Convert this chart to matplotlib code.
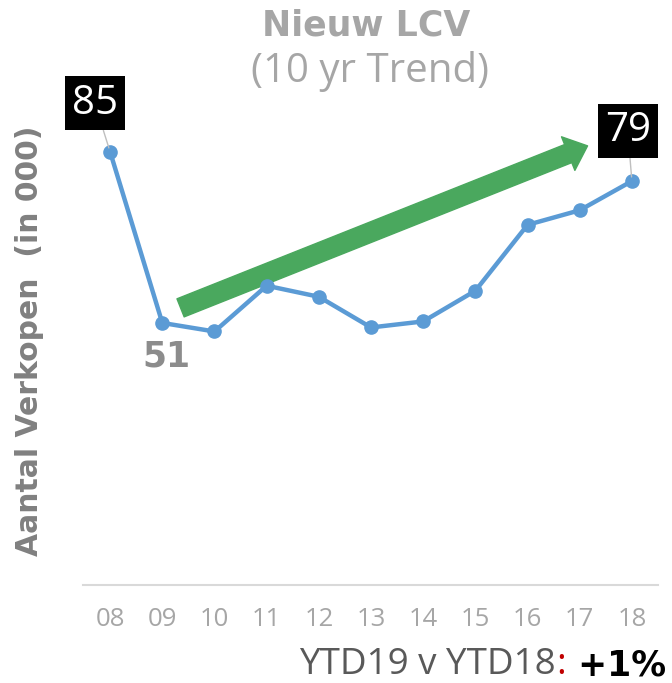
# Nieuw LCV - 10 jaar trend

import numpy as np
import matplotlib.pyplot as plt
from matplotlib.patches import FancyArrowPatch

jaren = ['08', '09', '10', '11', '12', '13', '14', '15', '16', '17', '18']
verkopen = [85, 51, 49.3, 58.4, 56.2, 50.1, 51.3, 57.4, 70.5, 73.4, 79.2]

# trend pijl (begin en eind in data coordinaten)
trend_x = [1.35, 9.15]
trend_y = [54.0, 86.2]

titel = 'Nieuw LCV'
subtitel = '(10 yr Trend)'
ylabel = 'Aantal Verkopen  (in 000)'
ytd_tekst = 'YTD19 v YTD18'
ytd_waarde = '+1%'

blauw = '#5b9bd5'
groen = '#4aa85e'
grijs = '#a6a6a6'

fig = plt.figure(figsize=(6.72, 6.83), dpi=100)
ax = fig.add_axes([83/672, 1-585/683, 575/672, (585-100)/683])

x = np.arange(len(jaren))
ax.plot(x, verkopen, color=blauw, lw=3.2, marker='o', ms=9.5, zorder=3)

ax.set_xlim(-0.52, 10.5)
ax.set_ylim(-1.1, -1.1 + (585-100)/5.03)

for s in ['top', 'right', 'left']:
	ax.spines[s].set_visible(False)
ax.spines['bottom'].set_color('#d9d9d9')
ax.spines['bottom'].set_linewidth(1.5)
ax.set_yticks([])
ax.set_xticks(x)
ax.set_xticklabels(jaren, fontfamily='Open Sans', fontsize=18.5, color=grijs)
ax.tick_params(axis='x', length=0, pad=16)

# trend pijl
pijl = FancyArrowPatch((trend_x[0], trend_y[0]), (trend_x[1], trend_y[1]),
	arrowstyle='simple,head_length=15,head_width=26,tail_width=14',
	mutation_scale=1, color=groen, shrinkA=0, shrinkB=0, zorder=2)
ax.add_patch(pijl)

# labels begin en eind
def zwart_label(i, dx, dy):
	ax.annotate(str(int(round(verkopen[i]))), xy=(x[i], verkopen[i]),
		xytext=(dx, dy), textcoords='offset points', ha='center', va='center',
		fontfamily='Open Sans', fontsize=29, color='white',
		bbox=dict(boxstyle='square,pad=0.17', fc='black', ec='none'),
		arrowprops=dict(arrowstyle='-', color='#bfbfbf', lw=1, shrinkA=0, shrinkB=3),
		zorder=4)

zwart_label(0, -11, 35)
zwart_label(10, -3, 36)

ax.annotate(str(verkopen[1]), xy=(x[1], verkopen[1]), xytext=(3, -24),
	textcoords='offset points', ha='center', va='center',
	fontfamily='DejaVu Sans', fontweight='bold', fontsize=25, color='#8c8c8c')

# titels
fig.text(366/672, 1-25/683, titel, ha='center', va='center',
	fontfamily='DejaVu Sans', fontweight='bold', fontsize=25, color=grijs)
fig.text(370/672, 1-72/683, subtitel, ha='center', va='center',
	fontfamily='Open Sans', fontsize=29, color=grijs)

fig.text(30/672, 1-341/683, ylabel, rotation=90, ha='center', va='center',
	fontfamily='DejaVu Sans', fontweight='bold', fontsize=21.5, color='#808080')

# YTD tekst rechts onder, stukken van rechts naar links
fig.canvas.draw()
r = fig.canvas.get_renderer()
t3 = fig.text(666/672, 1-665/683, ' ' + ytd_waarde, ha='right', va='center',
	fontfamily='DejaVu Sans', fontweight='bold', fontsize=25, color='black')
b3 = t3.get_window_extent(r)
t2 = fig.text(b3.x0/672, 1-665/683, ':', ha='right', va='center',
	fontfamily='Open Sans', fontsize=26.5, color='#c00000')
b2 = t2.get_window_extent(r)
t1 = fig.text(b2.x0/672, 1-665/683, ytd_tekst, ha='right', va='center',
	fontfamily='Open Sans', fontsize=26.5, color='#595959')

plt.savefig('out.png', dpi=100)
